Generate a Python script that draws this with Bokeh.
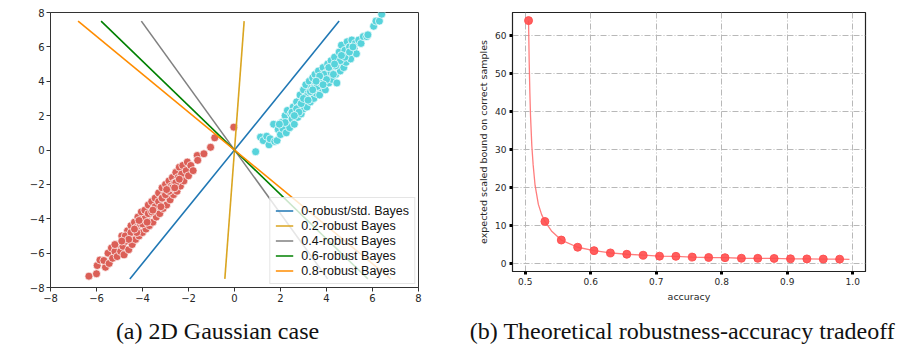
from bokeh.plotting import figure
from bokeh.layouts import row, column
from bokeh.models import (Range1d, FixedTicker, Legend, LegendItem, Label)
from bokeh.embed import file_html
from bokeh.resources import INLINE

# ---------------- data: panel (a) ----------------
cls1_x = [0.92, 1.13, 1.25, 1.4, 1.5, 1.55, 1.7, 1.75, 1.85, 1.9, 2.0, 2.05, 2.1, 2.2, 2.25, 2.3,
          2.35, 2.4, 2.45, 2.5, 2.55, 2.6, 2.65, 2.7, 2.75, 2.8, 2.85, 2.9, 2.95, 3.0, 3.0, 3.05,
          3.1, 3.15, 3.2, 3.25, 3.3, 3.35, 3.4, 3.45, 3.5, 3.5, 3.55, 3.6, 3.65, 3.7, 3.75, 3.8,
          3.85, 3.9, 3.95, 4.0, 4.05, 4.1, 4.15, 4.2, 4.25, 4.3, 4.35, 4.4, 4.45, 4.5, 4.55, 4.6,
          4.65, 4.7, 4.75, 4.8, 4.85, 4.9, 4.95, 5.0, 5.05, 5.1, 5.2, 5.25, 5.3, 5.4, 5.5, 5.6,
          5.75, 5.8, 6.05, 6.15, 6.3, 6.4,
          2.5, 2.7, 2.9, 3.1, 3.3, 3.45, 3.6, 3.75, 3.9, 4.0, 4.2, 4.4, 4.6, 4.8, 3.0, 3.2,
          3.4, 3.7, 4.1, 4.3, 2.8, 2.6, 2.2, 1.95, 3.55, 3.85, 4.65, 4.35, 5.0, 5.15]
cls1_y = [-0.1, 0.75, 0.55, 0.8, 0.3, 0.65, 1.5, 0.5, 0.55, 1.2, 0.9, 1.6, 1.25, 2.0, 1.0, 2.3,
          1.6, 1.3, 2.1, 1.8, 2.5, 1.5, 2.2, 2.8, 1.9, 2.5, 3.2, 2.1, 2.8, 3.5, 2.4, 3.0,
          3.8, 2.5, 3.3, 4.0, 2.8, 3.6, 4.2, 3.0, 3.8, 4.4, 3.3, 4.0, 4.6, 3.2, 4.2, 3.6,
          4.8, 4.0, 3.5, 4.5, 5.0, 3.9, 4.6, 5.2, 4.1, 4.8, 5.4, 4.4, 3.9, 5.0, 5.7, 4.6,
          6.1, 5.3, 4.8, 5.8, 5.1, 6.3, 5.5, 6.0, 5.3, 6.4, 5.9, 6.2, 5.6, 6.4, 6.2, 6.6,
          6.6, 6.7, 7.2, 7.5, 7.5, 7.9,
          2.2, 2.4, 2.7, 3.1, 3.4, 3.6, 3.7, 3.9, 4.4, 4.1, 4.5, 4.9, 5.2, 5.4, 3.0, 2.9,
          3.5, 4.3, 4.8, 4.4, 2.2, 2.0, 1.6, 1.5, 4.0, 3.8, 5.5, 5.0, 5.7, 6.0]

cls0_x = [-6.33, -6.0, -5.97, -5.85, -5.61, -5.68, -5.5, -5.45, -5.35, -5.3, -5.2, -5.1, -5.05,
          -4.95, -4.9, -4.85, -4.8, -4.7, -4.65, -4.6, -4.55, -4.5, -4.45, -4.4, -4.35, -4.3,
          -4.25, -4.2, -4.15, -4.1, -4.05, -4.0, -3.95, -3.9, -3.85, -3.8, -3.75, -3.7, -3.65,
          -3.6, -3.55, -3.5, -3.45, -3.4, -3.35, -3.3, -3.25, -3.2, -3.15, -3.1, -3.05, -3.0,
          -2.95, -2.9, -2.85, -2.8, -2.75, -2.7, -2.65, -2.6, -2.55, -2.5, -2.45, -2.4, -2.35,
          -2.3, -2.25, -2.2, -2.1, -2.05, -2.0, -1.9, -1.8, -1.62, -1.6, -1.33, -1.04, -0.86,
          -0.03,
          -4.75, -4.5, -4.25, -4.0, -3.9, -3.75, -3.6, -3.45, -3.3, -3.15, -3.0, -2.85, -2.7,
          -2.55, -2.4, -4.6, -4.35, -3.8, -3.55, -3.2, -2.95, -2.6, -5.2, -4.9, -4.15]
cls0_y = [-7.34, -7.2, -6.72, -6.4, -6.82, -6.43, -6.0, -6.6, -5.7, -6.3, -5.9, -6.2, -5.5,
          -5.9, -5.0, -5.6, -6.1, -5.3, -4.7, -5.8, -5.0, -4.4, -5.5, -4.8, -4.2, -5.2,
          -4.5, -3.9, -5.0, -4.3, -3.6, -4.8, -4.1, -3.5, -4.6, -3.9, -3.2, -4.4, -3.7,
          -3.0, -4.2, -3.4, -2.8, -3.9, -3.2, -2.5, -3.7, -2.9, -2.2, -3.4, -2.6, -2.0,
          -3.2, -2.4, -1.8, -2.9, -2.1, -1.6, -2.6, -1.9, -1.3, -2.4, -1.6, -1.0, -2.1,
          -1.4, -0.9, -1.8, -1.2, -0.7, -1.5, -0.9, -1.2, -0.32, -0.6, -0.22, 0.16, 0.71,
          1.33,
          -5.0, -4.8, -4.8, -4.3, -4.0, -3.7, -3.6, -3.3, -3.0, -2.8, -2.6, -2.4, -2.2,
          -1.9, -1.7, -5.2, -4.6, -4.2, -3.5, -3.3, -2.3, -2.2, -5.5, -5.3, -4.1]

robust_labels = ["0-robust/std. Bayes", "0.2-robust Bayes", "0.4-robust Bayes",
                 "0.6-robust Bayes", "0.8-robust Bayes"]
robust_colors = ["#1f77b4", "#daa520", "#808080", "#008000", "#ff8c00"]
boundary_x_end = [4.55, 0.42, -4.05, -5.8, -6.8]   # x at y = +7.5 (line passes origin)
boundary_y_end = [7.5, 7.5, 7.5, 7.5, 7.5]

a_ticks = [-8, -6, -4, -2, 0, 2, 4, 6, 8]
a_tick_labels = ["\u22128", "\u22126", "\u22124", "\u22122", "0", "2", "4", "6", "8"]

# ---------------- data: panel (b) ----------------
acc_pts = [0.505, 0.53, 0.555, 0.58, 0.605, 0.63, 0.655, 0.68, 0.705, 0.73,
           0.755, 0.78, 0.805, 0.83, 0.855, 0.88, 0.905, 0.93, 0.955, 0.98]
bound_pts = [64, 11.0, 6.1, 4.2, 3.3, 2.7, 2.35, 2.1, 1.85, 1.8,
             1.6, 1.5, 1.45, 1.3, 1.28, 1.25, 1.15, 1.12, 1.08, 1.05]
acc_curve = [0.505, 0.506, 0.507, 0.508, 0.51, 0.512, 0.515, 0.52, 0.525, 0.53, 0.54,
             0.555, 0.58, 0.605, 0.63, 0.655, 0.68, 0.705, 0.73, 0.755, 0.78, 0.805,
             0.83, 0.855, 0.88, 0.905, 0.93, 0.955, 0.98, 0.995]
bound_curve = [64, 53, 45, 39, 31, 26, 20.5, 15.5, 12.8, 11.0, 8.5,
               6.1, 4.2, 3.3, 2.7, 2.35, 2.1, 1.85, 1.8, 1.6, 1.5, 1.45,
               1.3, 1.28, 1.25, 1.15, 1.12, 1.08, 1.05, 1.0]
b_xticks = [0.5, 0.6, 0.7, 0.8, 0.9, 1.0]
b_xtick_labels = ["0.5", "0.6", "0.7", "0.8", "0.9", "1.0"]
b_yticks = [0, 10, 20, 30, 40, 50, 60]

captions = ["(a) 2D Gaussian case", "(b) Theoretical robustness-accuracy tradeoff"]

TICK_FONT = "DejaVu Sans"
TXT = "#262626"

# ---------------- panel (a) ----------------
pa = figure(title=None, frame_width=368, frame_height=275, x_range=Range1d(-8, 8),
            y_range=Range1d(-8, 8), output_backend="svg", toolbar_location=None,
            min_border_left=50, min_border_right=22, min_border_top=12, min_border_bottom=16)
pa.grid.visible = False
pa.outline_line_color = "#333333"
pa.outline_line_width = 1
for ax in (pa.xaxis[0], pa.yaxis[0]):
    ax.ticker = FixedTicker(ticks=a_ticks)
    ax.major_label_overrides = dict(zip(a_ticks, a_tick_labels))
    ax.minor_tick_line_color = None
    ax.major_tick_in = 0
    ax.major_tick_out = 4
    ax.major_tick_line_color = "#333333"
    ax.axis_line_color = "#333333"
    ax.major_label_text_font = TICK_FONT
    ax.major_label_text_font_size = "10px"
    ax.major_label_text_color = TXT
    ax.major_label_standoff = 2

pa.scatter(cls0_x, cls0_y, size=8, fill_color="#db5f57", line_color="white", line_width=0.7)
pa.scatter(cls1_x, cls1_y, size=8, fill_color="#57d3db", line_color="white", line_width=0.7)

items = []
for lab, col, xe, ye in zip(robust_labels, robust_colors, boundary_x_end, boundary_y_end):
    r = pa.line([-xe, xe], [-ye, ye], line_color=col, line_width=1.6)
    items.append(LegendItem(label=lab, renderers=[r]))

leg = Legend(items=items, location="bottom_right")
leg.background_fill_alpha = 0.8
leg.border_line_color = "#cccccc"
leg.border_line_width = 1
leg.label_text_font = "Liberation Sans"
leg.label_text_font_size = "12.5px"
leg.label_text_color = "#111111"
leg.glyph_width = 18
leg.glyph_height = 15
leg.label_height = 15
leg.label_standoff = 8
leg.spacing = 0
leg.padding = 5
leg.margin = 3
pa.add_layout(leg)

# ---------------- panel (b) ----------------
# frame top is aligned with panel (a) (12px); range top chosen so 60 sits where it should
pb = figure(title=None, frame_width=353, frame_height=259, x_range=Range1d(0.4805, 1.0195),
            y_range=Range1d(-2.2, 66.14), output_backend="svg", toolbar_location=None,
            min_border_left=72, min_border_right=24, min_border_top=12, min_border_bottom=32)
pb.outline_line_color = "#222222"
pb.outline_line_width = 1.2
pb.xaxis.ticker = FixedTicker(ticks=b_xticks)
pb.xaxis.major_label_overrides = dict(zip(b_xticks, b_xtick_labels))
pb.yaxis.ticker = FixedTicker(ticks=b_yticks)
pb.xaxis.axis_label = "accuracy"
pb.yaxis.axis_label = "expected scaled bound on correct samples"
for ax in (pb.xaxis[0], pb.yaxis[0]):
    ax.minor_tick_line_color = None
    ax.major_tick_in = 0
    ax.major_tick_out = 3
    ax.major_tick_line_width = 3
    ax.major_tick_line_color = "black"
    ax.axis_line_color = "#222222"
    ax.major_label_text_font = TICK_FONT
    ax.major_label_text_font_size = "9px"
    ax.major_label_text_color = TXT
    ax.major_label_standoff = 3
    ax.axis_label_text_font = TICK_FONT
    ax.axis_label_text_font_size = "9.5px"
    ax.axis_label_text_font_style = "normal"
    ax.axis_label_text_color = TXT
    ax.axis_label_standoff = 3
pb.grid.grid_line_color = "#b8b8b8"
pb.grid.grid_line_dash = "6 2 1 2"
pb.grid.grid_line_width = 1

pb.line(acc_curve, bound_curve, line_color="#ff6f6f", line_width=1.3, line_alpha=0.9)
pb.scatter(acc_pts, bound_pts, size=8, fill_color="#ff4d4d", line_color="#ff4d4d",
           fill_alpha=0.9, line_alpha=0.9)

# ---------------- captions ----------------
pc = figure(title=None, width=897, height=40, x_range=Range1d(0, 897), y_range=Range1d(0, 40),
            output_backend="svg", toolbar_location=None,
            min_border_left=0, min_border_right=0, min_border_top=0, min_border_bottom=0)
pc.axis.visible = False
pc.grid.visible = False
pc.outline_line_color = None
for cap, cx in zip(captions, [217, 682]):
    pc.add_layout(Label(x=cx, y=14, x_units="screen", y_units="screen", text=cap,
                        text_align="center", text_baseline="alphabetic",
                        text_font="Liberation Serif", text_font_size="24px",
                        text_color="#111111"))

layout = column(row(pa, pb), pc)
open("out.html", "w").write(file_html(layout, INLINE))
